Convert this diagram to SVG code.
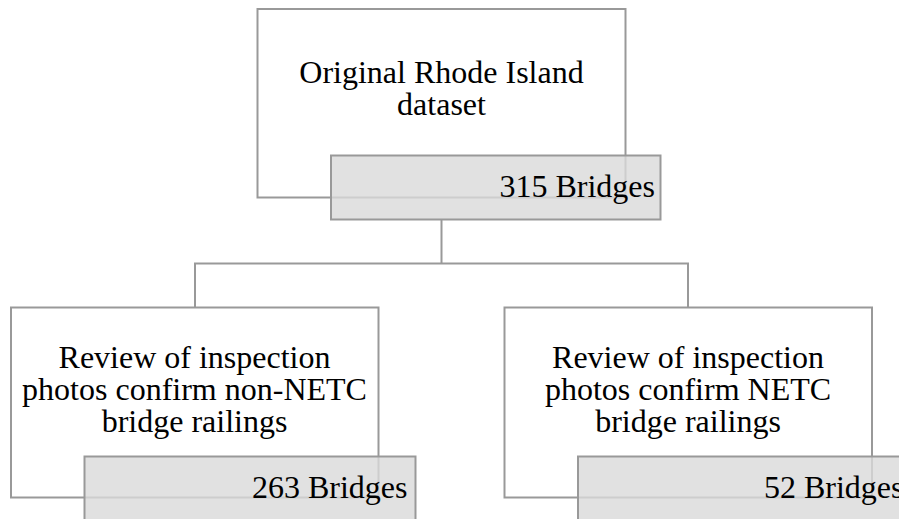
<svg xmlns="http://www.w3.org/2000/svg" width="899" height="519" viewBox="0 0 899 519">
<style>
.box{fill:#ffffff;stroke:#999999;stroke-width:2}
.tag{fill:#d9d9d9;fill-opacity:0.8;stroke:#999999;stroke-width:2}
.t{font-family:"Liberation Serif","Times New Roman",serif;font-size:32px;fill:#000}
.c{text-anchor:middle}
.r{text-anchor:end}
.conn{fill:none;stroke:#999999;stroke-width:2}
</style>
<g id="connectors">
<path class="conn" d="M441.5,219 V263.5 M195,307.5 V263.5 H688 V307.5"/>
</g>
<g id="node-top">
<rect class="box" x="257.5" y="9" width="368" height="188.5"/>
<text class="t c" x="441.5" y="82.5">Original Rhode Island</text>
<text class="t c" x="441.5" y="115">dataset</text>
<rect class="tag" x="331" y="155.5" width="329.5" height="64"/>
<text class="t r" x="655" y="196.5">315 Bridges</text>
</g>
<g id="node-left">
<rect class="box" x="11" y="307.5" width="367.5" height="190"/>
<text class="t c" x="194.5" y="367.5">Review of inspection</text>
<text class="t c" x="194.5" y="399.5">photos confirm non-NETC</text>
<text class="t c" x="194.5" y="431.5">bridge railings</text>
<rect class="tag" x="84.5" y="456.5" width="331" height="70"/>
<text class="t r" x="407.5" y="497.5">263 Bridges</text>
</g>
<g id="node-right">
<rect class="box" x="504.5" y="307.5" width="367.5" height="190"/>
<text class="t c" x="688" y="367.5">Review of inspection</text>
<text class="t c" x="688" y="399.5">photos confirm NETC</text>
<text class="t c" x="688" y="431.5">bridge railings</text>
<rect class="tag" x="578" y="456.5" width="331" height="70"/>
<text class="t r" x="903.5" y="497.5">52 Bridges</text>
</g>
</svg>
